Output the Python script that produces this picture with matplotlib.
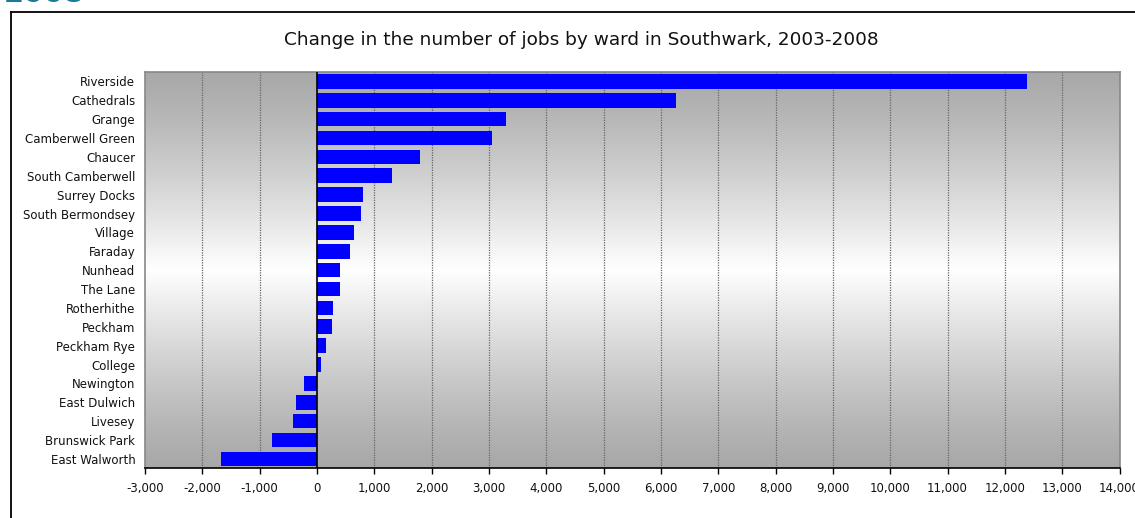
import matplotlib.pyplot as plt
import numpy as np
from matplotlib.lines import Line2D

# ward names and change in jobs 2003-2008
wards = ['Riverside', 'Cathedrals', 'Grange', 'Camberwell Green', 'Chaucer',
         'South Camberwell', 'Surrey Docks', 'South Bermondsey', 'Village',
         'Faraday', 'Nunhead', 'The Lane', 'Rotherhithe', 'Peckham',
         'Peckham Rye', 'College', 'Newington', 'East Dulwich', 'Livesey',
         'Brunswick Park', 'East Walworth']
change = [12380, 6270, 3300, 3060, 1800, 1315, 810, 775, 650, 580, 410, 405,
          285, 268, 165, 75, -230, -370, -425, -790, -1680]
xticks = list(range(-3000, 14001, 1000))

W, H = 1135, 518
fig = plt.figure(figsize=(W / 100, H / 100), dpi=100)
ax = fig.add_axes([145 / W, 1 - 468.3 / H, (1119.5 - 145) / W, (468.3 - 72) / H])

# vertical grey-white-grey gradient background
t = np.linspace(0, 1, 256)
g = 0.66 + 0.34 * (1 - np.abs(t - 0.5) * 2) ** 1.2
grad = np.stack([g, g, g], axis=-1).reshape(256, 1, 3)
ax.imshow(grad, extent=[0, 1, 0, 1], transform=ax.transAxes, aspect='auto',
          zorder=0, interpolation='bilinear')

y = np.arange(len(wards))
ax.barh(y, change, height=0.775, color='#0000ff', zorder=3)

ax.set_xlim(-3000, 14000)
ax.set_ylim(len(wards) - 0.5, -0.5)
ax.set_xticks(xticks)
ax.set_xticklabels(['{:,}'.format(v) for v in xticks], fontsize=8.5, color='#111111')
ax.set_yticks(y)
ax.set_yticklabels(wards, fontsize=8.5, color='#111111')
ax.tick_params(axis='y', length=0, pad=7)
ax.tick_params(axis='x', length=4, width=1, direction='out', pad=6, color='black')

for v in xticks[1:-1]:
    if v == 0:
        continue
    ax.axvline(v, color='#666666', lw=0.9, ls=(0, (1, 1)), zorder=1)
ax.axvline(0, color='black', lw=1.2, zorder=4)

for s in ['top', 'right', 'left']:
    ax.spines[s].set_color('#888888')
    ax.spines[s].set_linewidth(1.2)
ax.spines['bottom'].set_color('black')
ax.spines['bottom'].set_linewidth(1.2)

fig.text(581 / W, 1 - 40 / H, 'Change in the number of jobs by ward in Southwark, 2003-2008',
         ha='center', va='center', fontsize=13.3, color='#111111')

# outer frame and cut-off heading
fig.add_artist(Line2D([10.5 / W, 10.5 / W], [0, 1 - 12 / H], color='black', lw=1.3))
fig.add_artist(Line2D([10.5 / W, 1], [1 - 12 / H, 1 - 12 / H], color='black', lw=1.3))
fig.text(4 / W, 1 - 2.5 / H, '2008', ha='left', va='baseline', fontsize=21,
         fontweight='bold', color='#1b7a9a')

fig.savefig('out.png', dpi=100)
